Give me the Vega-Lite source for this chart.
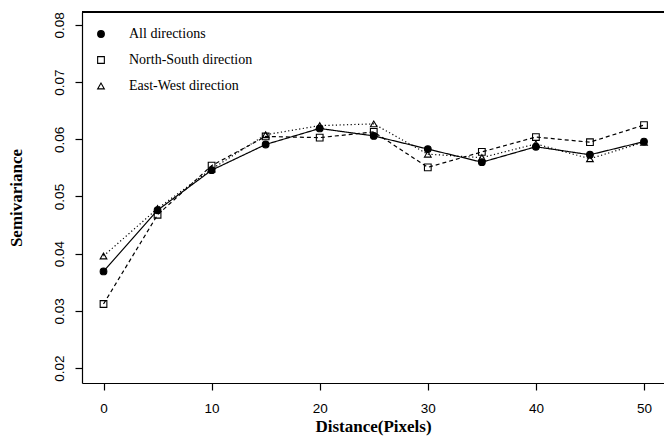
{
  "$schema": "https://vega.github.io/schema/vega-lite/v6.json",
  "width": 582,
  "height": 371,
  "autosize": {"type": "none"},
  "padding": {"left": 82, "top": 12, "right": 0, "bottom": 56},
  "background": "white",
  "config": {
    "view": {"stroke": null},
    "axis": {
      "grid": false,
      "domainColor": "black",
      "domainWidth": 1.2,
      "tickColor": "black",
      "tickWidth": 1.2,
      "tickSize": 7,
      "labelColor": "black",
      "labelFont": "Liberation Sans",
      "labelFontSize": 13.5,
      "titleColor": "black",
      "titleFont": "Liberation Serif",
      "titleFontWeight": "bold",
      "titleFontSize": 17
    },
    "axisY": {"labelAngle": -90, "labelAlign": "center", "labelBaseline": "bottom", "labelPadding": 9, "titlePadding": 27},
    "axisX": {"labelPadding": 11, "titlePadding": 4},
    "legend": {
      "labelFont": "Liberation Serif",
      "labelFontSize": 14,
      "labelColor": "black",
      "symbolSize": 45,
      "symbolStrokeWidth": 1.1,
      "labelOffset": 21,
      "rowPadding": 12,
      "padding": 0
    }
  },
  "data": {
    "values": [
      {"d": 0, "series": "All directions", "v": 0.0369},
      {"d": 5, "series": "All directions", "v": 0.0476},
      {"d": 10, "series": "All directions", "v": 0.0546},
      {"d": 15, "series": "All directions", "v": 0.0591},
      {"d": 20, "series": "All directions", "v": 0.0619},
      {"d": 25, "series": "All directions", "v": 0.0606},
      {"d": 30, "series": "All directions", "v": 0.0583},
      {"d": 35, "series": "All directions", "v": 0.0560},
      {"d": 40, "series": "All directions", "v": 0.0587},
      {"d": 45, "series": "All directions", "v": 0.0573},
      {"d": 50, "series": "All directions", "v": 0.0596},
      {"d": 0, "series": "North-South direction", "v": 0.0312},
      {"d": 5, "series": "North-South direction", "v": 0.0468},
      {"d": 10, "series": "North-South direction", "v": 0.0554},
      {"d": 15, "series": "North-South direction", "v": 0.0605},
      {"d": 20, "series": "North-South direction", "v": 0.0603},
      {"d": 25, "series": "North-South direction", "v": 0.0613},
      {"d": 30, "series": "North-South direction", "v": 0.0551},
      {"d": 35, "series": "North-South direction", "v": 0.0578},
      {"d": 40, "series": "North-South direction", "v": 0.0604},
      {"d": 45, "series": "North-South direction", "v": 0.0595},
      {"d": 50, "series": "North-South direction", "v": 0.0625},
      {"d": 0, "series": "East-West direction", "v": 0.0396},
      {"d": 5, "series": "East-West direction", "v": 0.0479},
      {"d": 10, "series": "East-West direction", "v": 0.0548},
      {"d": 15, "series": "East-West direction", "v": 0.0608},
      {"d": 20, "series": "East-West direction", "v": 0.0624},
      {"d": 25, "series": "East-West direction", "v": 0.0627},
      {"d": 30, "series": "East-West direction", "v": 0.0574},
      {"d": 35, "series": "East-West direction", "v": 0.0568},
      {"d": 40, "series": "East-West direction", "v": 0.0592},
      {"d": 45, "series": "East-West direction", "v": 0.0566},
      {"d": 50, "series": "East-West direction", "v": 0.0595}
    ]
  },
  "layer": [
    {
      "mark": {"type": "rule", "color": "black", "strokeWidth": 1.2},
      "encoding": {
        "y": {"datum": 0.08227, "type": "quantitative", "scale": {"domain": [0.01738, 0.08227], "nice": false, "zero": false}, "axis": {"title": "Semivariance", "values": [0.02, 0.03, 0.04, 0.05, 0.06, 0.07, 0.08], "format": ".2f"}}
      }
    },
    {
      "mark": {"type": "line", "color": "black", "strokeWidth": 1.2},
      "encoding": {
        "x": {"field": "d", "type": "quantitative", "scale": {"domain": [-1.99, 51.85], "nice": false, "zero": false}, "axis": {"title": "Distance(Pixels)", "values": [0, 10, 20, 30, 40, 50]}},
        "y": {"field": "v", "type": "quantitative", "scale": {"domain": [0.01738, 0.08227], "nice": false, "zero": false}, "axis": {"title": "Semivariance", "values": [0.02, 0.03, 0.04, 0.05, 0.06, 0.07, 0.08], "format": ".2f"}},
        "strokeDash": {"field": "series", "type": "nominal", "scale": {"domain": ["North-South direction", "East-West direction", "All directions"], "range": [[4, 3], [1.2, 2.5], [1, 0]]}, "legend": null}
      }
    },
    {
      "mark": {"type": "point", "filled": true, "size": 45, "stroke": "black", "strokeWidth": 1.1, "opacity": 1},
      "encoding": {
        "x": {"field": "d", "type": "quantitative", "axis": {"title": "Distance(Pixels)", "values": [0, 10, 20, 30, 40, 50]}},
        "y": {"field": "v", "type": "quantitative", "axis": {"title": "Semivariance", "values": [0.02, 0.03, 0.04, 0.05, 0.06, 0.07, 0.08], "format": ".2f"}},
        "shape": {"field": "series", "type": "nominal", "title": null, "scale": {"domain": ["All directions", "North-South direction", "East-West direction"], "range": ["circle", "square", "triangle-up"]}},
        "fill": {
          "field": "series",
          "type": "nominal",
          "title": null,
          "scale": {"domain": ["All directions", "North-South direction", "East-West direction"], "range": ["black", "transparent", "transparent"]},
          "legend": {
            "title": null,
            "orient": "none",
            "legendX": 12,
            "legendY": 15
          }
        }
      }
    }
  ]
}
